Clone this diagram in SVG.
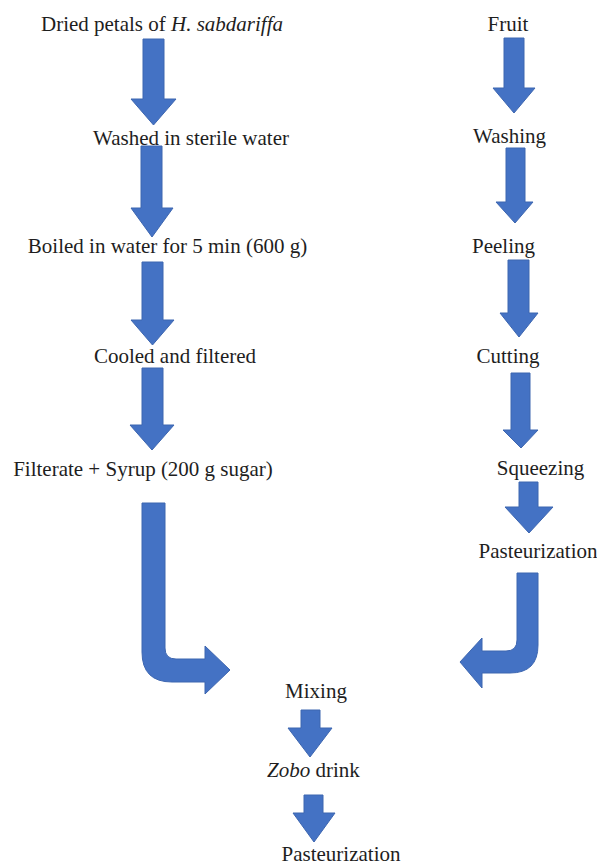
<svg xmlns="http://www.w3.org/2000/svg" width="597" height="866" viewBox="0 0 597 866">
<style>
.t text{font-size:21px;fill:#1e1e1e;text-anchor:middle}
.it{font-style:italic}
.arr{fill:#4472C4;stroke:#3d66b0;stroke-width:1}
</style>
<rect width="597" height="866" fill="#ffffff"/>
<g id="connectors">
<path class="arr" d="M143,39 H164 V99 H176 L153.5,125 L131,99 H143 Z"/>
<path class="arr" d="M141,146 H162 V208 H173 L152,237 L131,208 H141 Z"/>
<path class="arr" d="M142,262 H163 V320 H174 L152.5,345 L131,320 H142 Z"/>
<path class="arr" d="M142,368 H163 V425 H174 L152,450 L130,425 H142 Z"/>
<path class="arr" d="M504,38 H524 V88 H535 L514,113 L493,88 H504 Z"/>
<path class="arr" d="M506,148 H525 V202 H533 L515,223 L496,202 H506 Z"/>
<path class="arr" d="M508,260 H529 V313 H538 L519,337 L500,313 H508 Z"/>
<path class="arr" d="M511,373 H530 V430 H538 L521,448 L503,430 H511 Z"/>
<path class="arr" d="M519,482 H538 V507 H553 L529,533 L505,507 H519 Z"/>
<path class="arr" d="M301,710 H320 V728 H332 L310,757 L288,728 H301 Z"/>
<path class="arr" d="M304,795 H323 V813 H335 L314,842 L293,813 H304 Z"/>
<path class="arr" d="M142,503 H165 V648 Q165,659 176,659 H205 V646 L230,670 L205,694 V682 H172 Q142,682 142,652 Z"/>
<path class="arr" d="M517,573 H538 V645 Q538,673 510,673 H482 V688 L460,662 L482,638 V651 H506 Q517,651 517,640 Z"/>
</g>
<g class="t" font-family="'Liberation Serif', 'DejaVu Serif', serif">
<g id="n-dried"><text x="162" y="31">Dried petals of <tspan class="it">H. sabdariffa</tspan></text></g>
<g id="n-washed"><text x="191" y="145">Washed in sterile water</text></g>
<g id="n-boiled"><text x="167.5" y="253">Boiled in water for 5 min (600 g)</text></g>
<g id="n-cooled"><text x="175" y="363">Cooled and filtered</text></g>
<g id="n-filterate"><text x="143" y="476">Filterate + Syrup (200 g sugar)</text></g>
<g id="n-fruit"><text x="508" y="31">Fruit</text></g>
<g id="n-washing"><text x="509.5" y="143">Washing</text></g>
<g id="n-peeling"><text x="503.5" y="253">Peeling</text></g>
<g id="n-cutting"><text x="508" y="363">Cutting</text></g>
<g id="n-squeezing"><text x="540.5" y="475">Squeezing</text></g>
<g id="n-past1"><text x="538" y="558">Pasteurization</text></g>
<g id="n-mixing"><text x="316" y="698">Mixing</text></g>
<g id="n-zobo"><text x="313.5" y="777"><tspan class="it">Zobo</tspan> drink</text></g>
<g id="n-past2"><text x="341" y="861">Pasteurization</text></g>
</g>
</svg>
